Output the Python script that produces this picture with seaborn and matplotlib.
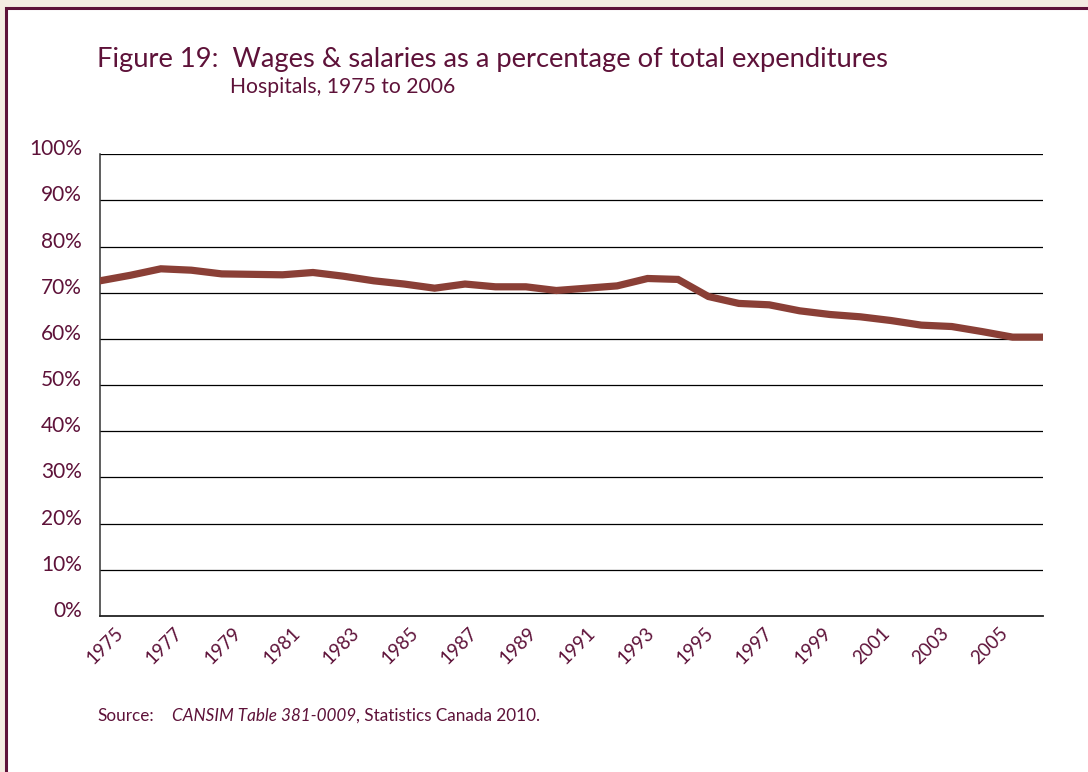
import numpy as np
import pandas as pd
import matplotlib.pyplot as plt
import seaborn as sns
from matplotlib.patches import Rectangle
from matplotlib.transforms import ScaledTranslation


# DATA

years = list(range(1975, 2007))
wages_pct = [72.6, 73.8, 75.2, 74.9, 74.1, 74.0, 73.9, 74.4, 73.6, 72.6,
             71.9, 71.0, 71.9, 71.3, 71.3, 70.5, 71.0, 71.5, 73.1, 72.9,
             69.2, 67.7, 67.4, 66.1, 65.3, 64.8, 64.0, 63.0, 62.7, 61.6,
             60.4, 60.4]
y_ticks = [0, 10, 20, 30, 40, 50, 60, 70, 80, 90, 100]
y_tick_labels = [f"{v}%" for v in y_ticks]
year_labels = [str(y) for y in years[::2]]

TEXT = "#5E1239"
LINE = "#8A3F36"
FONT = ["Lato", "DejaVu Sans"]

df = pd.DataFrame({"idx": np.arange(len(years)), "pct": wages_pct})


# PLOT

sns.set_theme(style="white")
plt.rcParams["font.family"] = FONT

fig = plt.figure(figsize=(10.88, 7.72), dpi=100)
fig.patch.set_facecolor("#F4ECE2")

# white panel with maroon border (behind the axes)
fig.patches.append(Rectangle((6 / 1088, -0.1), 1.2, 1.1 - 7.5 / 772,
                             transform=fig.transFigure, facecolor="white",
                             edgecolor="#5E1239", linewidth=2.2, zorder=-5))

ax = fig.add_axes([100 / 1088, 1 - 616 / 772, 943 / 1088, (616 - 154.3) / 772])
ax.set_facecolor("white")
ax.set_zorder(2)

sns.lineplot(data=df, x="idx", y="pct", ax=ax, color=LINE, linewidth=5.2,
             solid_joinstyle="miter", zorder=3)

n = len(years)
ax.set_xlim(0, n - 1)
ax.set_ylim(0, 100)

# gridlines
for v in y_ticks[1:]:
    ax.axhline(v, color="black", linewidth=0.9, zorder=1)

ax.set_yticks(y_ticks)
ax.set_yticklabels(y_tick_labels, color=TEXT, fontsize=15)
ax.tick_params(axis="y", length=0, pad=13)
# labels sit a little above their gridline
lift = ScaledTranslation(0, 7 / 100, fig.dpi_scale_trans)
for lab in ax.get_yticklabels():
    lab.set_transform(lab.get_transform() + lift)

# tick marks between categories, labels on category centres
step = (n - 1) / n
ax.set_xticks([i * step for i in range(n + 1)])
ax.set_xticklabels([])
ax.tick_params(axis="x", which="major", direction="in", length=8,
               width=1.1, color="#222222")
ax.set_xticks([(i + 0.5) * step for i in range(0, n, 2)], minor=True)
ax.set_xticklabels(year_labels, minor=True, rotation=45, ha="right",
                   rotation_mode="anchor", color=TEXT, fontsize=13.5)
ax.tick_params(axis="x", which="minor", length=0, pad=6)
ax.set_xlabel("")
ax.set_ylabel("")

for s in ["top", "right"]:
    ax.spines[s].set_visible(False)
ax.spines["left"].set_color("#333333")
ax.spines["left"].set_linewidth(1.1)
ax.spines["bottom"].set_color("#222222")
ax.spines["bottom"].set_linewidth(1.3)

# titles
fig.text(97 / 1088, 1 - 59 / 772, "Figure 19:  Wages & salaries as a percentage of total expenditures",
         color=TEXT, fontsize=19.7, va="center", ha="left")
fig.text(230 / 1088, 1 - 87 / 772, "Hospitals, 1975 to 2006",
         color=TEXT, fontsize=15.2, va="center", ha="left")

# source line, pieces placed one after another
fig.text(97 / 1088, 1 - 716 / 772, "Source:", color=TEXT, fontsize=12.3,
         va="center", ha="left")
t1 = fig.text(172 / 1088, 1 - 716 / 772, "CANSIM Table 381-0009", color=TEXT,
              fontsize=12.3, va="center", ha="left", style="italic")
fig.canvas.draw()
x_end = t1.get_window_extent().x1 / fig.bbox.width
fig.text(x_end, 1 - 716 / 772, ", Statistics Canada 2010.", color=TEXT,
         fontsize=12.3, va="center", ha="left")

fig.savefig("out.png", dpi=100, facecolor=fig.get_facecolor())
